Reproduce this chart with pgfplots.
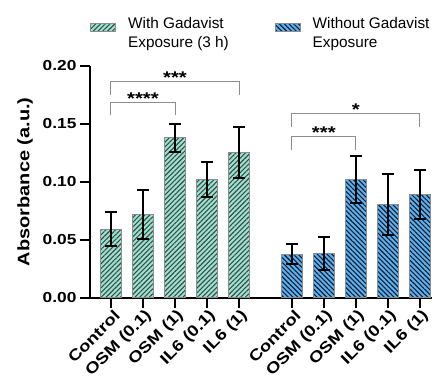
\documentclass[border=0pt]{standalone}
\usepackage{pgfplots}
\pgfplotsset{compat=1.18}
\usepackage{pgfplotstable}
\usepackage{fontspec}
\setmainfont{Liberation Sans}
\newfontfamily\wideb{Liberation Sans}[FakeStretch=1.2]
\usetikzlibrary{patterns.meta}
\definecolor{mint}{HTML}{7FF0D2}
\definecolor{mintline}{HTML}{6A3444}
\definecolor{skyb}{HTML}{5AB2EE}
\definecolor{skyline}{HTML}{141A30}
\definecolor{brk}{HTML}{8C8C8C}

\pgfplotstableread{
x y e
0 0.059 0.0145
1 0.072 0.021
2 0.138 0.012
3 0.102 0.015
4 0.125 0.022
}\withG
\pgfplotstableread{
x y e
5.65 0.0375 0.0087
6.65 0.038 0.014
7.65 0.102 0.020
8.65 0.0805 0.0265
9.65 0.089 0.021
}\withoutG

\begin{document}
\begin{tikzpicture}
\useasboundingbox (-90bp,-86.3bp) rectangle (352bp,297.7bp);
\begin{axis}[
  at={(0,0)}, anchor=south west,
  scale only axis, width=342bp, height=232bp,
  xmin=-0.656, xmax=10.03, ymin=0, ymax=0.20,
  axis x line*=bottom, axis y line*=left,
  axis line style={line width=2bp, black, -},
  tick style={line width=2bp, black},
  major tick length=10bp, tick align=outside,
  xtick={0,1,2,3,4,5.65,6.65,7.65,8.65,9.65},
  xticklabels={Control,OSM (0.1),OSM (1),IL6 (0.1),IL6 (1),Control,OSM (0.1),OSM (1),IL6 (0.1),IL6 (1)},
  x tick label style={rotate=45, anchor=east, xshift=4bp, yshift=-8bp, font=\wideb\bfseries\fontsize{15.5}{16}\selectfont},
  ytick={0,0.05,0.10,0.15,0.20},
  y tick label style={font=\wideb\bfseries\fontsize{14.5}{16}\selectfont,
    /pgf/number format/.cd, fixed, fixed zerofill, precision=2, assume math mode=true},
  scaled y ticks=false,
  ylabel={Absorbance (a.u.)},
  ylabel style={font=\wideb\bfseries\fontsize{16.7}{18}\selectfont, at={(axis description cs:-0.19,0.5)}, anchor=center},
  clip=false,
  legend columns=2,
  legend style={at={(axis description cs:-0.008,1.232)}, anchor=north west, draw=none, fill=none,
    font=\fontsize{15.4}{18.5}\selectfont,
    /tikz/every odd column/.append style={column sep=10bp},
    /tikz/every even column/.append style={column sep=44bp},
    cells={anchor=west}},
  legend image code/.code={\draw[#1] (0bp,-4bp) rectangle (25bp,4bp);},
]
\addplot[ybar, bar width=21.5bp, bar shift=0pt, fill=mint, draw=brk, line width=0.8bp,
  postaction={pattern={Lines[angle=45,distance=3.4bp,line width=1.1bp]}, pattern color=mintline},
  error bars/.cd, y dir=both, y explicit,
  error bar style={line width=2bp, black},
  error mark options={rotate=90, line width=2bp, black, mark size=6bp}]
  table[x=x, y=y, y error=e]{\withG};
\addlegendentry{\begin{tabular}{@{}l@{}}With Gadavist\\Exposure (3 h)\end{tabular}}
\addplot[ybar, bar width=21.5bp, bar shift=0pt, fill=skyb, draw=brk, line width=0.8bp,
  postaction={pattern={Lines[angle=-45,distance=3.4bp,line width=1.1bp]}, pattern color=skyline},
  error bars/.cd, y dir=both, y explicit,
  error bar style={line width=2bp, black},
  error mark options={rotate=90, line width=2bp, black, mark size=6bp}]
  table[x=x, y=y, y error=e]{\withoutG};
\addlegendentry{\begin{tabular}{@{}l@{}}Without Gadavist\\Exposure\end{tabular}}

\draw[brk, line width=1bp] (axis cs:0,0.1747) -- (axis cs:0,0.1868) -- (axis cs:4,0.1868) -- (axis cs:4,0.1747);
\draw[brk, line width=1bp] (axis cs:0,0.1575) -- (axis cs:0,0.1685) -- (axis cs:2,0.1685) -- (axis cs:2,0.1575);
\draw[brk, line width=1bp] (axis cs:5.65,0.1474) -- (axis cs:5.65,0.159) -- (axis cs:9.65,0.159) -- (axis cs:9.65,0.1474);
\draw[brk, line width=1bp] (axis cs:5.65,0.127) -- (axis cs:5.65,0.139) -- (axis cs:7.65,0.139) -- (axis cs:7.65,0.127);
\node[anchor=base, yshift=-2bp, inner sep=0pt, font=\wideb\bfseries\fontsize{17}{18}\selectfont] at (axis cs:2,0.1868) {***};
\node[anchor=base, yshift=-2bp, inner sep=0pt, font=\wideb\bfseries\fontsize{17}{18}\selectfont] at (axis cs:1,0.1685) {****};
\node[anchor=base, yshift=-2bp, inner sep=0pt, font=\wideb\bfseries\fontsize{17}{18}\selectfont] at (axis cs:7.65,0.159) {*};
\node[anchor=base, yshift=-2bp, inner sep=0pt, font=\wideb\bfseries\fontsize{17}{18}\selectfont] at (axis cs:6.65,0.139) {***};
\end{axis}
\end{tikzpicture}
\end{document}
